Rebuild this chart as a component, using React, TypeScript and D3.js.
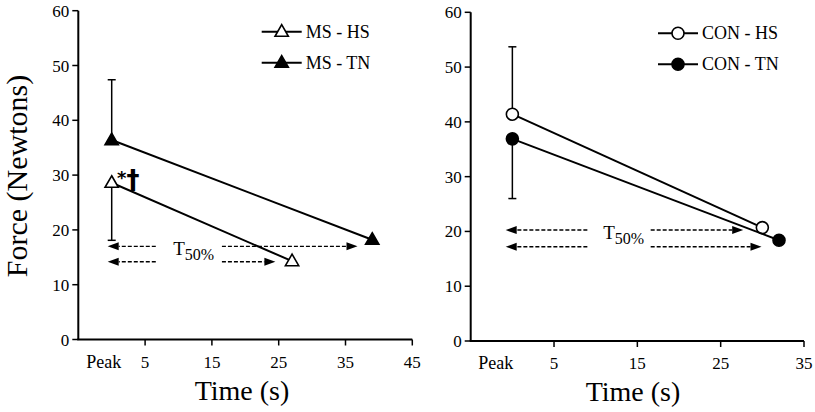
import React from "react";
import * as d3 from "d3";

const W = 815;
const H = 412;
const FONT = "Liberation Serif";

const yTicks = [0, 10, 20, 30, 40, 50, 60];
const xTicksLeft = [5, 15, 25, 35, 45];
const xTicksRight = [5, 15, 25, 35];
const peakLabel = "Peak";

const msHS = [{ t: 0, f: 28.6 }, { t: 27, f: 14.3 }];
const msTN = [{ t: 0, f: 36.4 }, { t: 39, f: 18.2 }];
const conHS = [{ t: 0, f: 41.4 }, { t: 30, f: 20.7 }];
const conTN = [{ t: 0, f: 36.9 }, { t: 32, f: 18.4 }];

// error bar ends at peak
const msHSErr = 18.1;
const msTNErr = 47.4;
const conHSErr = 53.7;
const conTNErr = 26.0;

// T50% arrows: row force, left dash start, left tip, right start, right tip
const leftArrows = [
  { f: 17.0, l0: 6.6, l1: -0.6, r0: 16.5, r1: 36.8 },
  { f: 14.2, l0: 6.6, l1: -0.6, r0: 16.5, r1: 24.5 },
];
const rightArrows = [
  { f: 20.25, l0: 9.0, l1: -0.8, r0: 16.6, r1: 27.7 },
  { f: 17.2, l0: 9.0, l1: -0.8, r0: 16.6, r1: 29.9 },
];

type Pt = { t: number; f: number };

function Marker({ x, y, kind, filled }: { x: number; y: number; kind: string; filled: boolean }) {
  if (kind === "tri") {
    const s = 7;
    const p = `M${x},${y - s} L${x + s * 0.95},${y + s * 0.65} L${x - s * 0.95},${y + s * 0.65} Z`;
    return <path d={p} fill={filled ? "#000" : "#fff"} stroke="#000" strokeWidth={1.6} />;
  }
  return <circle cx={x} cy={y} r={6} fill={filled ? "#000" : "#fff"} stroke="#000" strokeWidth={1.6} />;
}

function Arrow({ x0, x1, y }: { x0: number; x1: number; y: number }) {
  const dir = x1 > x0 ? 1 : -1;
  const hl = 11;
  const hw = 4;
  const base = x1 - dir * hl;
  return (
    <g>
      <line x1={x0} y1={y} x2={base} y2={y} stroke="#000" strokeWidth={1.4} strokeDasharray="4,2" />
      <path d={`M${x1},${y} L${base},${y - hw} L${base},${y + hw} Z`} fill="#000" />
    </g>
  );
}

function Panel(props: {
  x0: number; x1: number; yTop: number; yBot: number;
  xDomain: [number, number]; xTicks: number[]; peakAt: number;
  series: { data: Pt[]; kind: string; filled: boolean; name: string }[];
  errs: { t: number; from: number; to: number }[];
  arrows: typeof leftArrows;
  tLabel: { t: number; f: number };
  legend: { x: number; y: number };
  xLabelX: number;
  extra?: React.ReactNode;
}) {
  const x = d3.scaleLinear().domain(props.xDomain).range([props.x0, props.x1]);
  const y = d3.scaleLinear().domain([0, 60]).range([props.yBot, props.yTop]);
  const line = d3.line<Pt>().x((d) => x(d.t)).y((d) => y(d.f));
  return (
    <g>
      <line x1={props.x0} y1={props.yTop} x2={props.x0} y2={props.yBot} stroke="#000" strokeWidth={2} />
      <line x1={props.x0 - 1} y1={props.yBot} x2={props.x1} y2={props.yBot} stroke="#000" strokeWidth={2} />
      {yTicks.map((v) => (
        <g key={v}>
          <line x1={props.x0 - 6} x2={props.x0} y1={y(v)} y2={y(v)} stroke="#000" strokeWidth={1.5} />
          <text x={props.x0 - 9} y={y(v) + 6} textAnchor="end" fontSize={17} fontFamily={FONT}>{v}</text>
        </g>
      ))}
      {props.xTicks.map((v) => (
        <g key={v}>
          <line x1={x(v)} x2={x(v)} y1={props.yBot} y2={props.yBot + 6} stroke="#000" strokeWidth={1.5} />
          <text x={x(v)} y={props.yBot + 28} textAnchor="middle" fontSize={17} fontFamily={FONT}>{v}</text>
        </g>
      ))}
      <text x={x(props.peakAt)} y={props.yBot + 28} textAnchor="middle" fontSize={18} fontFamily={FONT}>{peakLabel}</text>
      <text x={props.xLabelX} y={props.yBot + 60} textAnchor="middle" fontSize={28} fontFamily={FONT}>Time (s)</text>

      {props.errs.map((e, i) => (
        <g key={i}>
          <line x1={x(e.t)} x2={x(e.t)} y1={y(e.from)} y2={y(e.to)} stroke="#000" strokeWidth={1.5} />
          <line x1={x(e.t) - 4} x2={x(e.t) + 4} y1={y(e.to)} y2={y(e.to)} stroke="#000" strokeWidth={1.5} />
        </g>
      ))}

      {props.arrows.map((a, i) => (
        <g key={i}>
          <Arrow x0={x(a.l0)} x1={x(a.l1)} y={y(a.f)} />
          <Arrow x0={x(a.r0)} x1={x(a.r1)} y={y(a.f)} />
        </g>
      ))}
      <text x={x(props.tLabel.t)} y={y(props.tLabel.f)} fontSize={19} fontFamily={FONT}>
        T<tspan fontSize={16} dy={5}>50%</tspan>
      </text>

      {props.series.map((s, i) => (
        <g key={i}>
          <path d={line(s.data) || ""} fill="none" stroke="#000" strokeWidth={2} />
          {s.data.map((d, j) => (
            <Marker key={j} x={x(d.t)} y={y(d.f)} kind={s.kind} filled={s.filled} />
          ))}
        </g>
      ))}

      {props.series.map((s, i) => {
        const ly = props.legend.y + i * 31;
        return (
          <g key={i}>
            <line x1={props.legend.x} x2={props.legend.x + 40} y1={ly} y2={ly} stroke="#000" strokeWidth={2} />
            <Marker x={props.legend.x + 20} y={ly} kind={s.kind} filled={s.filled} />
            <text x={props.legend.x + 44} y={ly + 6} fontSize={18} fontFamily={FONT}>{s.name}</text>
          </g>
        );
      })}
      {props.extra}
    </g>
  );
}

export default function App() {
  return (
    <svg width={W} height={H} style={{ position: "absolute", left: 0, top: 0, background: "#fff" }}>
      <rect width={W} height={H} fill="#fff" />
      <text transform={`translate(27,176) rotate(-90)`} textAnchor="middle" fontSize={30} fontFamily={FONT}>
        Force (Newtons)
      </text>
      <Panel
        x0={78.3} x1={412.3} yTop={10.7} yBot={339.5}
        xDomain={[-5, 45]} xTicks={xTicksLeft} peakAt={-1.2}
        series={[
          { data: msHS, kind: "tri", filled: false, name: "MS - HS" },
          { data: msTN, kind: "tri", filled: true, name: "MS - TN" },
        ]}
        errs={[
          { t: 0, from: msHS[0].f, to: msHSErr },
          { t: 0, from: msTN[0].f, to: msTNErr },
        ]}
        arrows={leftArrows}
        tLabel={{ t: 9.2, f: 15.4 }}
        legend={{ x: 261.7, y: 31.7 }}
        xLabelX={242}
        extra={
          <text x={117} y={189} fontWeight="bold" fontFamily="DejaVu Sans">
            <tspan fontSize={18} dy={-5}>*</tspan>
            <tspan fontSize={26} dy={5}>†</tspan>
          </text>
        }
      />
      <Panel
        x0={470.7} x1={804} yTop={12.3} yBot={341}
        xDomain={[-5, 35]} xTicks={xTicksRight} peakAt={-2}
        series={[
          { data: conHS, kind: "circ", filled: false, name: "CON - HS" },
          { data: conTN, kind: "circ", filled: true, name: "CON - TN" },
        ]}
        errs={[
          { t: 0, from: conHS[0].f, to: conHSErr },
          { t: 0, from: conTN[0].f, to: conTNErr },
        ]}
        arrows={rightArrows}
        tLabel={{ t: 10.9, f: 18.6 }}
        legend={{ x: 658, y: 33.3 }}
        xLabelX={633}
      />
    </svg>
  );
}
